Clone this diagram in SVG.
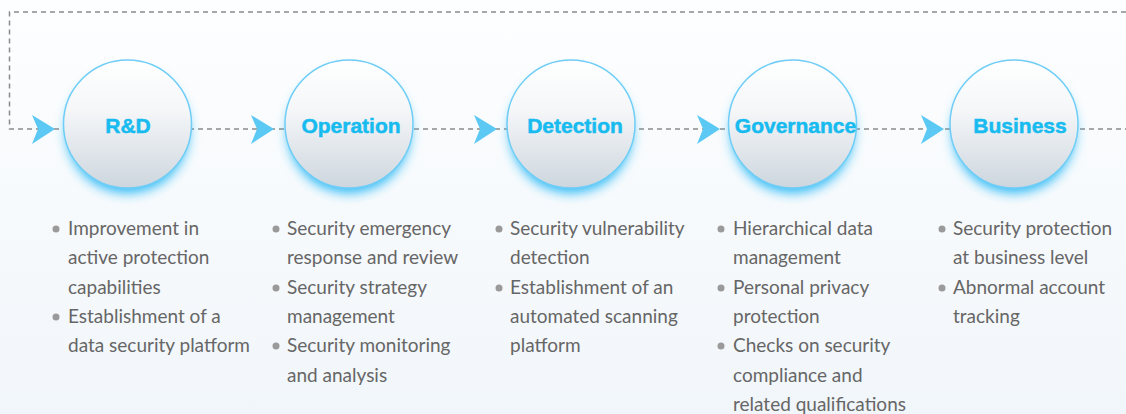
<svg xmlns="http://www.w3.org/2000/svg" width="1126" height="414" viewBox="0 0 1126 414">
<defs>
<linearGradient id="bg" x1="0" y1="0" x2="0" y2="1">
<stop offset="0" stop-color="#fdfeff"/>
<stop offset="1" stop-color="#f1f6fa"/>
</linearGradient>
<linearGradient id="ball" x1="0" y1="0" x2="0" y2="1">
<stop offset="0" stop-color="#ffffff"/>
<stop offset="0.4" stop-color="#f4f6f8"/>
<stop offset="1" stop-color="#cdd6de"/>
</linearGradient>
<filter id="glow" x="-50%" y="-50%" width="200%" height="200%">
<feGaussianBlur stdDeviation="6"/>
</filter>
<path id="arrow" d="M-23,-14 L0,0 L-23,15 L-17,0 Z"/>
<style>
.dash{fill:none;stroke:#8a8a8a;stroke-width:1.5;stroke-dasharray:5 4}
.arr{fill:#5cc9f5}
.halo{fill:#2cb9f6}
.ball{fill:url(#ball);stroke:#6fcdf6;stroke-width:1.5}
.lbl{font-family:"Liberation Sans",Arial,sans-serif;font-weight:bold;font-size:21px;fill:#17bbef;stroke:#17bbef;stroke-width:0.5;text-anchor:middle}
.item{font-family:Lato,"Open Sans",sans-serif;font-size:19px;fill:#666}
.dot{fill:#9a9a9a}
</style>
</defs>
<rect width="1126" height="414" fill="url(#bg)"/>
<g id="connectors">
<path class="dash" d="M1126,12 H9.5 V129 H1126"/>
<use href="#arrow" class="arr" x="55" y="129"/>
<use href="#arrow" class="arr" x="274" y="129"/>
<use href="#arrow" class="arr" x="497" y="129"/>
<use href="#arrow" class="arr" x="720" y="129"/>
<use href="#arrow" class="arr" x="944" y="129"/>
</g>
<g id="node-rd">
<circle class="halo" cx="127.5" cy="132" r="61" filter="url(#glow)"/>
<circle class="ball" cx="127.5" cy="124" r="64"/>
<text class="lbl" x="128" y="133">R&amp;D</text>
</g>
<g id="node-operation">
<circle class="halo" cx="349" cy="132" r="61" filter="url(#glow)"/>
<circle class="ball" cx="349" cy="124" r="64"/>
<text class="lbl" x="351" y="133">Operation</text>
</g>
<g id="node-detection">
<circle class="halo" cx="571" cy="132" r="61" filter="url(#glow)"/>
<circle class="ball" cx="571" cy="124" r="64"/>
<text class="lbl" x="575" y="133">Detection</text>
</g>
<g id="node-governance">
<circle class="halo" cx="792.5" cy="132" r="61" filter="url(#glow)"/>
<circle class="ball" cx="792.5" cy="124" r="64"/>
<text class="lbl" x="795.5" y="133">Governance</text>
</g>
<g id="node-business">
<circle class="halo" cx="1014" cy="132" r="61" filter="url(#glow)"/>
<circle class="ball" cx="1014" cy="124" r="64"/>
<text class="lbl" x="1020" y="133">Business</text>
</g>
<g id="list-rd">
<circle class="dot" cx="56" cy="229" r="3.5"/>
<circle class="dot" cx="56" cy="317" r="3.5"/>
<text class="item" x="68" y="235">Improvement in</text>
<text class="item" x="68" y="264.3">active protection</text>
<text class="item" x="68" y="293.6">capabilities</text>
<text class="item" x="68" y="323">Establishment of a</text>
<text class="item" x="68" y="352.2">data security platform</text>
</g>
<g id="list-operation">
<circle class="dot" cx="276" cy="229" r="3.5"/>
<circle class="dot" cx="276" cy="288" r="3.5"/>
<circle class="dot" cx="276" cy="346" r="3.5"/>
<text class="item" x="287" y="235">Security emergency</text>
<text class="item" x="287" y="264.3">response and review</text>
<text class="item" x="287" y="293.6">Security strategy</text>
<text class="item" x="287" y="323">management</text>
<text class="item" x="287" y="352.2">Security monitoring</text>
<text class="item" x="287" y="381.5">and analysis</text>
</g>
<g id="list-detection">
<circle class="dot" cx="499" cy="229" r="3.5"/>
<circle class="dot" cx="499" cy="288" r="3.5"/>
<text class="item" x="510" y="235">Security vulnerability</text>
<text class="item" x="510" y="264.3">detection</text>
<text class="item" x="510" y="293.6">Establishment of an</text>
<text class="item" x="510" y="323">automated scanning</text>
<text class="item" x="510" y="352.2">platform</text>
</g>
<g id="list-governance">
<circle class="dot" cx="721" cy="229" r="3.5"/>
<circle class="dot" cx="721" cy="288" r="3.5"/>
<circle class="dot" cx="721" cy="346" r="3.5"/>
<text class="item" x="733" y="235">Hierarchical data</text>
<text class="item" x="733" y="264.3">management</text>
<text class="item" x="733" y="293.6">Personal privacy</text>
<text class="item" x="733" y="323">protection</text>
<text class="item" x="733" y="352.2">Checks on security</text>
<text class="item" x="733" y="381.5">compliance and</text>
<text class="item" x="733" y="410.8">related qualifications</text>
</g>
<g id="list-business">
<circle class="dot" cx="942" cy="229" r="3.5"/>
<circle class="dot" cx="942" cy="288" r="3.5"/>
<text class="item" x="953" y="235">Security protection</text>
<text class="item" x="953" y="264.3">at business level</text>
<text class="item" x="953" y="293.6">Abnormal account</text>
<text class="item" x="953" y="323">tracking</text>
</g>
</svg>
